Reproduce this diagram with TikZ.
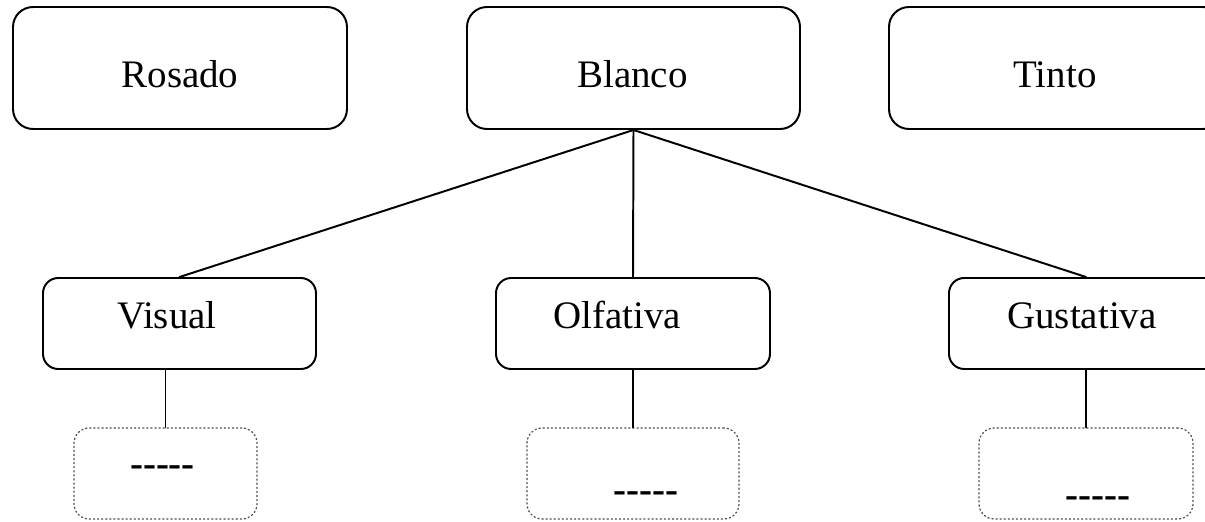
\documentclass[tikz,border=0pt]{standalone}
\usepackage{amsmath,amssymb}
\usepackage{xcolor}
\usepackage{fontspec}
\setmainfont{Liberation Serif}
\usepackage{tikz}

\begin{document}
\begin{tikzpicture}[line cap=round,line join=round,x=0.025cm,y=-0.025cm,
    tipo/.style={draw,line width=1.4pt,rounded corners=0.5cm,inner sep=0pt,minimum width=334*0.025cm,minimum height=122*0.025cm},
    fase/.style={draw,line width=1.4pt,rounded corners=0.38cm,inner sep=0pt,minimum width=274*0.025cm,minimum height=91*0.025cm},
    hoja/.style={draw=black!70,dotted,line width=0.9pt,rounded corners=0.38cm,inner sep=0pt,minimum height=91*0.025cm},
    texto/.style={anchor=base,font=\fontsize{27.7}{33}\selectfont}]
			\useasboundingbox (0,0) rectangle (1205,521);
			\clip (0,0) rectangle (1205,521);
			\node[tipo] (Rosado) at (180,68) {};
			\node[tipo,minimum width=333*0.025cm] (Blanco) at (633.5,68) {};
			\node[tipo] (Tinto) at (1056,68) {};
			\node[fase,minimum width=273*0.025cm] (Visual) at (179.5,323.5) {};
			\node[fase] (Olfativa) at (633,323.5) {};
			\node[fase] (Gustativa) at (1086,323.5) {};
			\node[hoja,minimum width=183*0.025cm] (hVisual) at (165.5,473.5) {};
			\node[hoja,minimum width=212*0.025cm] (hOlfativa) at (633,473.5) {};
			\node[hoja,minimum width=214*0.025cm] (hGustativa) at (1086,473.5) {};
			\draw [line width=1.4pt] (Blanco.south) -- (Visual.north);
			\draw [line width=1.4pt] (Blanco.south) -- (Olfativa.north);
			\draw [line width=1.4pt] (Blanco.south) -- (Gustativa.north);
			\draw [line width=1.4pt] (hVisual.north |- Visual.south) -- (hVisual.north);
			\draw [line width=1.4pt] (hOlfativa.north |- Olfativa.south) -- (hOlfativa.north);
			\draw [line width=1.4pt] (hGustativa.north |- Gustativa.south) -- (hGustativa.north);
			\draw (180,87) node[texto] (tRosado) {Rosado};
			\draw (632.5,87) node[texto] (tBlanco) {Blanco};
			\draw (1055,87) node[texto] (tTinto) {Tinto};
			\draw (167,328) node[texto] (tVisual) {Visual};
			\draw (617,328) node[texto] (tOlfativa) {Olfativa};
			\draw (1082,328) node[texto] (tGustativa) {Gustativa};
			\draw (162.5,476) node[texto] (dVisual) {\textbf{-{}-{}-{}-{}-}};
			\draw (646,502) node[texto] (dOlfativa) {\textbf{-{}-{}-{}-{}-}};
			\draw (1098,507) node[texto] (dGustativa) {\textbf{-{}-{}-{}-{}-}};
			\end{tikzpicture}
\end{document}
